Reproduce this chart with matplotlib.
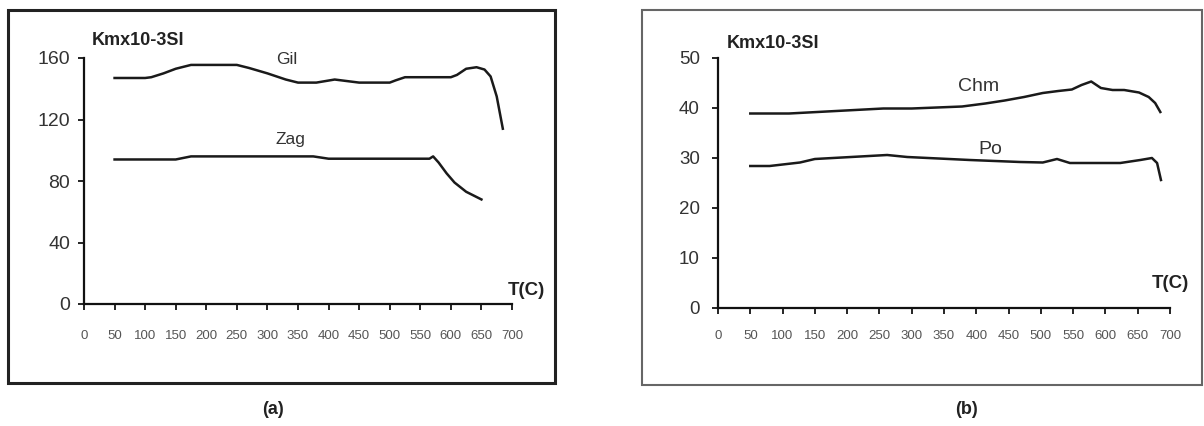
import matplotlib
matplotlib.use('Agg')
import matplotlib.pyplot as plt
from matplotlib.patches import Rectangle

plt.rcParams['font.family'] = ['Liberation Sans', 'DejaVu Sans']

# panel (a): Gil and Zag
gil_t = [50, 100, 110, 130, 150, 175, 250, 270, 300, 330, 350, 380, 395, 410, 430, 450,
         500, 510, 525, 600, 610, 625, 642, 655, 665, 675, 685]
gil_k = [147, 147, 147.5, 150, 153, 155.5, 155.5, 153.5, 150, 146, 144, 144, 145, 146, 145, 144,
         144, 145.5, 147.5, 147.5, 149, 153, 154, 152.5, 148, 135, 114]
zag_t = [50, 150, 175, 375, 400, 565, 571, 580, 593, 606, 625, 650]
zag_k = [94, 94, 96, 96, 94.5, 94.5, 96, 92, 85, 79, 73, 68]

# panel (b): Chm and Po
chm_t = [50, 110, 256, 300, 378, 414, 444, 474, 503, 527, 548, 563, 578, 593, 611, 629,
         652, 667, 677, 685]
chm_k = [38.9, 38.9, 39.9, 39.9, 40.3, 40.9, 41.5, 42.2, 43.0, 43.4, 43.7, 44.6, 45.3, 44.0,
         43.6, 43.6, 43.1, 42.2, 41.0, 39.2]
po_t = [50, 80, 127, 150, 262, 293, 390, 468, 503, 525, 545, 623, 654, 672, 680, 686]
po_k = [28.4, 28.4, 29.1, 29.8, 30.6, 30.2, 29.6, 29.2, 29.1, 29.8, 29.0, 29.0, 29.6, 30.0,
        29.0, 25.6]

x_ticks = list(range(0, 701, 50))
ya_ticks = [0, 40, 80, 120, 160]
yb_ticks = [0, 10, 20, 30, 40, 50]

W, H = 1204, 426
fig = plt.figure(figsize=(W / 100, H / 100), dpi=100)


def px_axes(x0, x1, ytop, ybot):  # pixel box -> figure fraction axes
    return fig.add_axes([x0 / W, (H - ybot) / H, (x1 - x0) / W, (ybot - ytop) / H])


def style_axes(ax, yticks, xpad, ypad, ysize):
    for s in ['top', 'right']:
        ax.spines[s].set_visible(False)
    for s in ['left', 'bottom']:
        ax.spines[s].set_linewidth(1.6)
        ax.spines[s].set_color('#111111')
    ax.set_xlim(0, 700)
    ax.set_ylim(yticks[0], yticks[-1])
    ax.set_xticks(x_ticks)
    ax.set_yticks(yticks)
    ax.tick_params(axis='x', length=4, width=1.2, pad=xpad, labelsize=9.5, labelcolor='#555555')
    ax.tick_params(axis='y', length=4, width=1.2, pad=ypad, labelsize=ysize, labelcolor='#333333')
    ax.patch.set_alpha(0)


# frames
fig.patches.append(Rectangle((8 / W, (H - 383) / H), (555 - 8) / W, (383 - 10) / H,
                             transform=fig.transFigure, fill=False, edgecolor='#222222',
                             linewidth=2.2))
fig.patches.append(Rectangle((642 / W, (H - 385) / H), (1202 - 642) / W, (385 - 10) / H,
                             transform=fig.transFigure, fill=False, edgecolor='#666666',
                             linewidth=1.5))

ax1 = px_axes(84, 512, 58, 304)
style_axes(ax1, ya_ticks, 15, 6, 14)
ax1.plot(gil_t, gil_k, color='#1a1a1a', linewidth=1.8)
ax1.plot(zag_t, zag_k, color='#1a1a1a', linewidth=1.8)
ax1.text(332, 159, 'Gil', ha='center', va='center', fontsize=12.5, color='#333333')
ax1.text(338, 107, 'Zag', ha='center', va='center', fontsize=12.5, color='#333333')
ax1.text(13, 171.5, 'Kmx10-3SI', ha='left', va='center', fontsize=13, fontweight='bold',
         color='#222222', clip_on=False)
ax1.text(724, 9, 'T(C)', ha='center', va='center', fontsize=13.5, fontweight='bold',
         color='#222222', clip_on=False)

ax2 = px_axes(718, 1170, 58, 308)
style_axes(ax2, yb_ticks, 12, 9, 13.5)
ax2.plot(chm_t, chm_k, color='#1a1a1a', linewidth=1.8)
ax2.plot(po_t, po_k, color='#1a1a1a', linewidth=1.8)
ax2.text(403, 44.3, 'Chm', ha='center', va='center', fontsize=14, color='#333333')
ax2.text(421, 31.8, 'Po', ha='center', va='center', fontsize=14, color='#333333')
ax2.text(13, 53, 'Kmx10-3SI', ha='left', va='center', fontsize=13, fontweight='bold',
         color='#222222', clip_on=False)
ax2.text(672, 5, 'T(C)', ha='left', va='center', fontsize=13.5, fontweight='bold',
         color='#222222', clip_on=False)

fig.text(273 / W, (H - 410) / H, '(a)', ha='center', va='center', fontsize=13,
         fontweight='bold', color='#222222')
fig.text(966 / W, (H - 409) / H, '(b)', ha='center', va='center', fontsize=13,
         fontweight='bold', color='#222222')

fig.savefig('out.png', dpi=100)
